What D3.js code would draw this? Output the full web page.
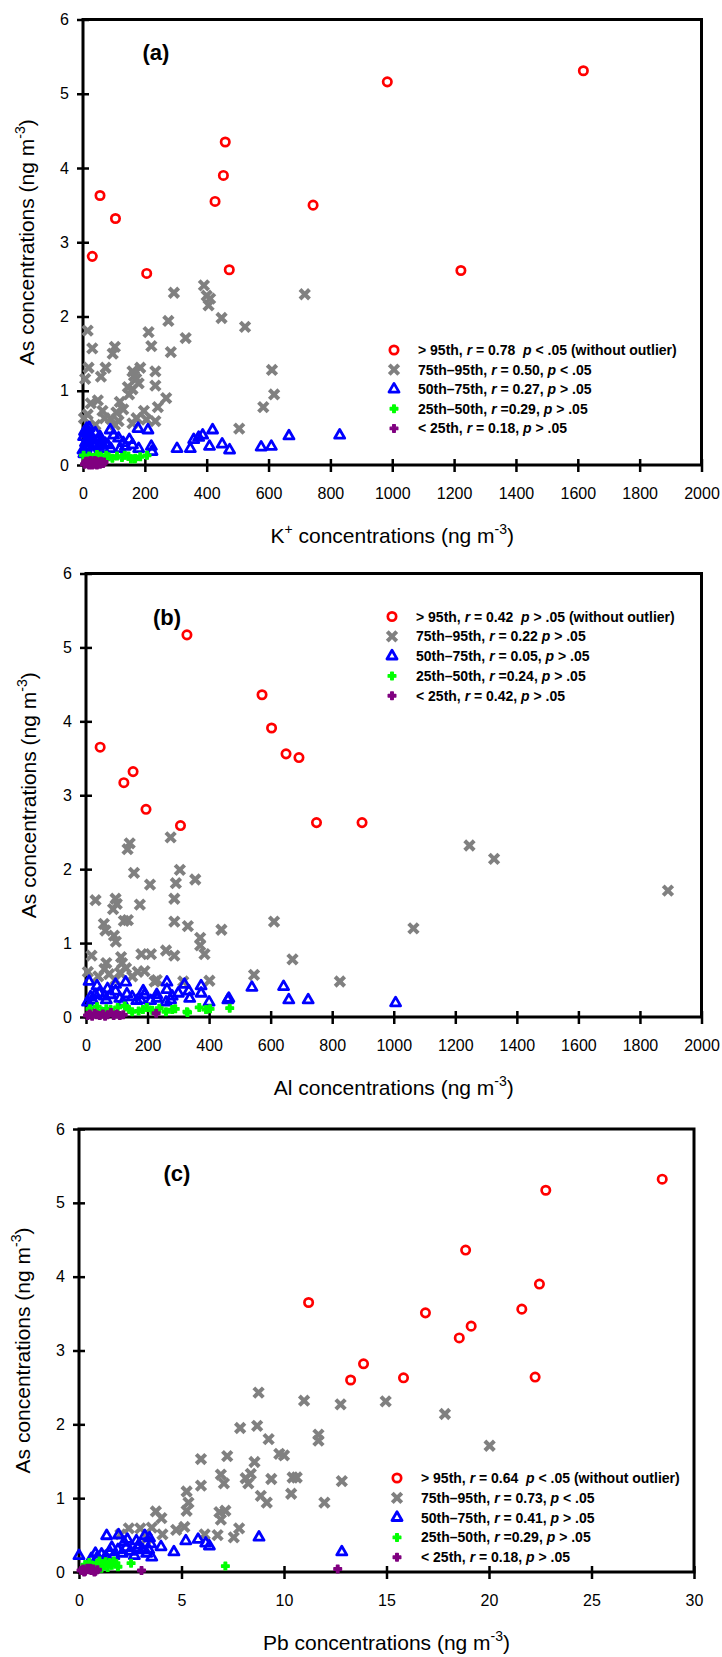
<!DOCTYPE html>
<html>
<head>
<meta charset="utf-8">
<script src="https://cdn.jsdelivr.net/npm/d3@7"></script>
<style>
  body { margin: 0; background: #fff; }
  svg { display: block; font-family: Arial, "Liberation Sans", sans-serif; }
</style>
</head>
<body>
<svg id="chart" width="722" height="1657"></svg>
<script>
// ---- data: [x, As] pairs ----

// (a) K+ vs As
var kRed = [[30,2.81],[55,3.63],[105,3.32],[206,2.58],[427,3.55],[454,3.90],[460,4.35],[473,2.63],[744,3.50],[984,5.16],[1222,2.62],[1618,5.31]];
var kGray = [[391,2.42],[294,2.32],[717,2.30],[400,2.28],[406,2.15],[411,2.24],[448,1.98],[276,1.94],[524,1.86],[15,1.81],[212,1.79],[332,1.71],[221,1.60],[30,1.57],[284,1.52],[103,1.59],[96,1.50],[611,1.28],[618,0.95],[583,0.78],[505,0.49],[269,0.90],[234,1.26],[234,1.07],[242,0.78],[234,0.59],[185,1.31],[172,1.16],[160,1.02],[149,0.95],[173,0.63],[119,0.85],[108,0.71],[103,0.54],[70,0.63],[48,0.87],[58,1.19],[73,1.31],[18,1.31],[7,1.16],[15,0.68],[25,0.83],[160,1.26],[197,0.73],[205,0.61],[115,0.59],[40,0.54],[3,0.63],[63,0.73],[160,0.56],[130,0.75],[90,0.62],[180,1.10],[165,1.20],[145,1.05]];
var kBlue = [[830,0.40],[666,0.39],[609,0.25],[576,0.24],[474,0.20],[450,0.28],[419,0.47],[409,0.25],[387,0.40],[374,0.37],[358,0.34],[347,0.22],[304,0.22],[221,0.25],[223,0.18],[210,0.47],[178,0.49],[180,0.22],[150,0.34],[137,0.25],[115,0.36],[88,0.47],[99,0.40],[72,0.29],[40,0.43],[12,0.49],[2,0.38],[23,0.25],[0,0.20],[5,0.45],[8,0.30],[15,0.42],[18,0.33],[20,0.50],[25,0.40],[30,0.35],[35,0.28],[45,0.33],[50,0.25],[55,0.38],[60,0.30],[65,0.22],[80,0.27],[10,0.22],[3,0.15],[28,0.18],[90,0.22],[120,0.22],[160,0.27],[130,0.30]];
var kGreen = [[207,0.13],[169,0.09],[147,0.12],[126,0.10],[110,0.12],[83,0.11],[56,0.12],[29,0.10],[2,0.13],[167,0.08],[10,0.08],[20,0.12],[40,0.09],[45,0.14],[65,0.08],[75,0.13],[95,0.09],[135,0.13],[155,0.08],[185,0.11],[60,0.10],[30,0.06]];
var kPurple = [[5,0.01],[8,0.03],[12,0.02],[15,0.05],[18,0.01],[22,0.03],[25,0.06],[28,0.02],[32,0.04],[35,0.01],[40,0.03],[43,0.05],[48,0.02],[52,0.04],[55,0.01],[60,0.03],[65,0.02],[68,0.04],[20,0.0],[38,0.06],[10,0.05],[30,0.0],[45,0.0],[58,0.05]];

// (b) Al vs As
var alRed = [[46,3.65],[123,3.17],[153,3.32],[195,2.81],[307,2.59],[328,5.17],[572,4.36],[603,3.91],[650,3.56],[692,3.51],[749,2.63],[897,2.63]];
var alGray = [[1891,1.71],[1246,2.32],[1326,2.14],[1064,1.20],[825,0.48],[671,0.78],[611,1.29],[546,0.57],[440,1.18],[401,0.49],[385,0.85],[371,1.07],[371,0.97],[355,1.86],[331,1.23],[316,0.48],[305,1.99],[292,1.81],[287,1.60],[287,1.29],[287,0.83],[275,2.43],[260,0.90],[223,0.48],[208,1.79],[211,0.85],[180,0.85],[175,1.52],[156,1.95],[142,2.35],[135,2.27],[136,1.31],[123,1.30],[168,0.61],[117,0.73],[114,0.81],[100,1.53],[96,1.60],[88,1.46],[91,1.10],[97,1.02],[66,0.73],[58,1.26],[63,1.17],[31,1.58],[18,0.83],[6,0.61],[40,0.55],[75,0.58],[110,0.60],[150,0.55],[190,0.62],[230,0.50],[95,0.50],[60,0.65],[130,0.66]];
var alBlue = [[1006,0.19],[722,0.23],[659,0.23],[642,0.41],[539,0.40],[461,0.23],[464,0.25],[400,0.20],[374,0.42],[374,0.32],[337,0.25],[334,0.35],[320,0.44],[263,0.47],[263,0.37],[275,0.23],[231,0.25],[186,0.35],[178,0.23],[129,0.47],[133,0.31],[96,0.35],[96,0.44],[66,0.23],[36,0.42],[10,0.48],[21,0.23],[43,0.32],[60,0.28],[80,0.30],[110,0.25],[150,0.27],[165,0.22],[190,0.30],[210,0.22],[230,0.30],[260,0.20],[300,0.32],[280,0.28],[120,0.20],[70,0.38],[30,0.30],[5,0.20],[15,0.27]];
var alGreen = [[467,0.12],[403,0.11],[368,0.13],[328,0.07],[290,0.11],[260,0.07],[238,0.12],[198,0.13],[171,0.08],[126,0.15],[103,0.13],[66,0.11],[36,0.14],[13,0.11],[50,0.08],[80,0.10],[140,0.10],[150,0.07],[185,0.10],[215,0.09],[280,0.10],[330,0.06],[390,0.10]];
var alPurple = [[228,0.05],[121,0.03],[81,0.06],[5,0.02],[12,0.04],[20,0.01],[28,0.05],[35,0.03],[45,0.02],[55,0.04],[62,0.01],[70,0.03],[90,0.02],[100,0.04],[110,0.02]];

// (c) Pb vs As
var pbRed = [[11.2,3.65],[28.45,5.32],[22.77,5.17],[18.86,4.36],[22.46,3.90],[21.6,3.56],[16.9,3.51],[19.13,3.33],[18.55,3.17],[13.88,2.82],[13.25,2.60],[15.83,2.63],[22.25,2.64]];
var pbGray = [[8.76,2.43],[10.98,2.32],[12.76,2.27],[14.96,2.31],[17.85,2.14],[20.03,1.71],[7.86,1.95],[8.69,1.98],[9.25,1.80],[9.77,1.60],[10.0,1.58],[11.68,1.86],[11.68,1.78],[7.23,1.57],[5.95,1.53],[8.56,1.49],[8.38,1.33],[8.13,1.27],[8.26,1.20],[6.92,1.32],[7.07,1.20],[5.95,1.17],[9.38,1.26],[10.42,1.28],[10.62,1.28],[10.35,1.06],[8.87,1.03],[9.16,0.94],[11.97,0.94],[12.82,1.23],[5.25,1.09],[5.34,0.94],[5.25,0.83],[3.75,0.82],[4.02,0.73],[6.85,0.81],[7.14,0.83],[6.92,0.71],[7.81,0.59],[7.55,0.47],[6.76,0.50],[6.13,0.51],[5.14,0.61],[4.74,0.57],[4.07,0.51],[3.55,0.60],[2.99,0.59],[2.43,0.59],[3.32,0.46],[2.02,0.51]];
var pbBlue = [[0,0.22],[1.35,0.49],[1.93,0.50],[2.36,0.44],[3.21,0.49],[3.44,0.46],[4.0,0.34],[4.63,0.27],[5.21,0.42],[5.81,0.44],[6.18,0.39],[6.36,0.35],[8.78,0.47],[12.82,0.27],[2.87,0.32],[3.55,0.20],[0.6,0.18],[0.9,0.20],[1.1,0.24],[1.3,0.21],[1.5,0.27],[1.7,0.22],[1.9,0.30],[2.1,0.25],[2.3,0.33],[2.5,0.28],[2.7,0.22],[2.9,0.36],[3.1,0.30],[3.3,0.25],[3.5,0.38],[2.2,0.40],[1.6,0.33],[2.8,0.42],[3.4,0.30],[1.2,0.15],[0.8,0.25]];
var pbGreen = [[7.14,0.08],[2.54,0.12],[0.3,0.10],[0.5,0.13],[0.7,0.08],[0.9,0.12],[1.0,0.15],[1.2,0.10],[1.4,0.06],[1.5,0.13],[1.6,0.09],[1.8,0.12],[1.9,0.07],[0.4,0.06],[1.1,0.05],[1.3,0.14],[1.7,0.15]];
var pbPurple = [[12.62,0.04],[3.05,0.02],[0.1,0.02],[0.2,0.04],[0.3,0.01],[0.4,0.05],[0.5,0.03],[0.6,0.02],[0.7,0.04],[0.8,0.01],[0.9,0.03],[0.25,0.0],[0.55,0.05],[0.75,0.0]];

// ---- legends and ticks ----
var kLegend = ["> 95th, r = 0.78  p < .05 (without outlier)", "75th\u201395th, r = 0.50, p < .05", "50th\u201375th, r = 0.27, p > .05", "25th\u201350th, r =0.29, p > .05", "< 25th, r = 0.18, p > .05"];
var alLegend = ["> 95th, r = 0.42  p > .05 (without outlier)", "75th\u201395th, r = 0.22 p > .05", "50th\u201375th, r = 0.05, p > .05", "25th\u201350th, r =0.24, p > .05", "< 25th, r = 0.42, p > .05"];
var pbLegend = ["> 95th, r = 0.64  p < .05 (without outlier)", "75th\u201395th, r = 0.73, p < .05", "50th\u201375th, r = 0.41, p > .05", "25th\u201350th, r =0.29, p > .05", "< 25th, r = 0.18, p > .05"];

var yTicks = [0, 1, 2, 3, 4, 5, 6];
var kTicks = [0, 200, 400, 600, 800, 1000, 1200, 1400, 1600, 1800, 2000];
var pbTicks = [0, 5, 10, 15, 20, 25, 30];

var svg = d3.select("#chart");
svg.append("rect").attr("width", 722).attr("height", 1657).attr("fill", "#fff");

// marker types, drawn in series order (later on top)
var xShape = { draw: function (ctx, size) {
  var r = Math.sqrt(size) / 2;
  ctx.moveTo(-r, -r); ctx.lineTo(r, r);
  ctx.moveTo(-r, r); ctx.lineTo(r, -r);
}};
var styles = [
  { name: "red",    sym: d3.symbolCircle,   size: 55, fill: "none", stroke: "#ff0000", sw: 2.7 },
  { name: "gray",   sym: xShape,            size: 90, fill: "none", stroke: "#808080", sw: 4 },
  { name: "blue",   sym: d3.symbolTriangle, size: 44, fill: "none", stroke: "#0000ff", sw: 2.8 },
  { name: "green",  sym: d3.symbolCross,    size: 32, fill: "#00ff00", stroke: "#00ff00", sw: 1.4 },
  { name: "purple", sym: d3.symbolCross,    size: 32, fill: "#800080", stroke: "#800080", sw: 1.4 }
];

function panel(cfg) {
  var g = svg.append("g");
  var x = d3.scaleLinear().domain([0, cfg.xmax]).range([cfg.left, cfg.right]);
  var y = d3.scaleLinear().domain([0, 6]).range([cfg.bottom, cfg.top]);

  // frame
  g.append("rect")
    .attr("x", cfg.left).attr("y", cfg.top)
    .attr("width", cfg.right - cfg.left).attr("height", cfg.bottom - cfg.top)
    .attr("fill", "none").attr("stroke", "#000").attr("stroke-width", 3);

  // axes with crossing ticks
  var xa = g.append("g").attr("transform", "translate(0," + cfg.bottom + ")")
    .call(d3.axisBottom(x).tickValues(cfg.xticks).tickFormat(d3.format("d"))
      .tickSize(7).tickSizeOuter(0).tickPadding(16));
  xa.selectAll(".tick line").attr("y1", -6).attr("stroke-width", 2.5);
  var ya = g.append("g").attr("transform", "translate(" + cfg.left + ",0)")
    .call(d3.axisLeft(y).tickValues(yTicks).tickFormat(d3.format("d"))
      .tickSize(6).tickSizeOuter(0).tickPadding(9));
  ya.selectAll(".tick line").attr("x1", 6).attr("x2", -6).attr("stroke-width", 2.5);
  g.selectAll(".domain").remove();
  g.selectAll(".tick text").attr("font-size", 16).attr("font-family", "Arial, 'Liberation Sans', sans-serif").attr("fill", "#000");
  ya.selectAll(".tick text").attr("x", -14);

  // points
  cfg.series.forEach(function (data, i) {
    var st = styles[i];
    var sym = d3.symbol().type(st.sym).size(st.size);
    g.append("g").selectAll("path").data(data).enter().append("path")
      .attr("d", sym)
      .attr("transform", function (d) { return "translate(" + x(d[0]) + "," + y(d[1]) + ")"; })
      .attr("fill", st.fill).attr("stroke", st.stroke).attr("stroke-width", st.sw)
      .attr("stroke-linejoin", "round");
  });

  // legend
  var lg = g.append("g");
  cfg.legend.forEach(function (label, i) {
    var st = styles[i];
    var ly = cfg.legY + i * cfg.legStep;
    lg.append("path")
      .attr("d", d3.symbol().type(st.sym).size(st.size)())
      .attr("transform", "translate(" + cfg.legX + "," + ly + ")")
      .attr("fill", st.fill).attr("stroke", st.stroke).attr("stroke-width", st.sw)
      .attr("stroke-linejoin", "round");
    var t = lg.append("text").attr("x", cfg.legX + 24).attr("y", ly + 5)
      .attr("font-size", 14).attr("font-weight", "bold").style("white-space", "pre");
    label.split(/\b([rp])\b/).forEach(function (part, j) {
      var ts = t.append("tspan").text(part);
      if (j % 2 === 1) ts.attr("font-style", "italic");
    });
  });

  // panel letter
  g.append("text").attr("x", cfg.letX).attr("y", cfg.letY)
    .attr("text-anchor", "middle").attr("font-size", 22).attr("font-weight", "bold")
    .text(cfg.letter);

  // axis titles
  var xt = g.append("text").attr("x", (cfg.left + cfg.right) / 2).attr("y", cfg.bottom + 78)
    .attr("text-anchor", "middle").attr("font-size", 21);
  xt.append("tspan").text(cfg.xname);
  if (cfg.xsup) xt.append("tspan").attr("dy", -9).attr("font-size", 14).text(cfg.xsup);
  xt.append("tspan").attr("dy", cfg.xsup ? 9 : 0).text(" concentrations (ng m");
  xt.append("tspan").attr("dy", -9).attr("font-size", 14).text("-3");
  xt.append("tspan").attr("dy", 9).text(")");

  var yc = (cfg.top + cfg.bottom) / 2;
  var yt = g.append("text").attr("transform", "translate(" + cfg.ytX + "," + yc + ") rotate(-90)")
    .attr("text-anchor", "middle").attr("font-size", 21);
  yt.append("tspan").text("As concentrations (ng m");
  yt.append("tspan").attr("dy", -9).attr("font-size", 14).text("-3");
  yt.append("tspan").attr("dy", 9).text(")");
}

panel({ left: 83, right: 701.5, top: 19.5, bottom: 465, xmax: 2000, xticks: kTicks,
  series: [kRed, kGray, kBlue, kGreen, kPurple], legend: kLegend,
  legX: 394, legY: 350, legStep: 19.6, letter: "(a)", letX: 156, letY: 60,
  xname: "K", xsup: "+", ytX: 34 });

panel({ left: 86, right: 701.5, top: 573.5, bottom: 1017, xmax: 2000, xticks: kTicks,
  series: [alRed, alGray, alBlue, alGreen, alPurple], legend: alLegend,
  legX: 392, legY: 616.5, legStep: 19.8, letter: "(b)", letX: 167, letY: 625,
  xname: "Al", xsup: null, ytX: 36 });

panel({ left: 79, right: 694, top: 1129, bottom: 1572, xmax: 30, xticks: pbTicks,
  series: [pbRed, pbGray, pbBlue, pbGreen, pbPurple], legend: pbLegend,
  legX: 397, legY: 1478, legStep: 19.8, letter: "(c)", letX: 177, letY: 1181,
  xname: "Pb", xsup: null, ytX: 30 });
</script>
</body>
</html>
